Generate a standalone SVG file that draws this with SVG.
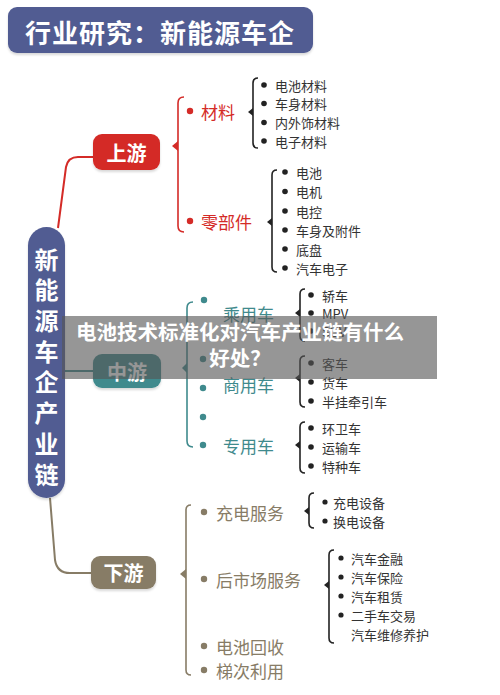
<svg xmlns="http://www.w3.org/2000/svg" width="500" height="695" viewBox="0 0 500 695">
<defs>
<style>
.f{font-family:"Noto Sans CJK SC","Noto Sans",sans-serif;}
.wt{fill:#fff;font-weight:bold;dominant-baseline:central;text-anchor:middle;}
.it{fill:#333;font-size:13px;dominant-baseline:central;}
.red{fill:#d42b27;} .teal{fill:#3f8a8d;} .brn{fill:#877c66;}
.lbl{font-size:17px;dominant-baseline:central;}
.brk{fill:none;stroke-width:1.6;}
.bk{stroke:#222;} .bkf{fill:#222;}
</style>
<filter id="sh" x="-10%" y="-10%" width="120%" height="130%"><feDropShadow dx="0" dy="2" stdDeviation="1.2" flood-color="#000" flood-opacity="0.15"/></filter>
</defs>
<rect width="500" height="695" fill="#fff"/>

<g id="title">
<rect x="8" y="7" width="305" height="46" rx="9" fill="#515c92" filter="url(#sh)"/>
<text class="f wt" x="160" y="31" font-size="26" letter-spacing="1">行业研究：新能源车企</text>
</g>

<g id="connectors">
<path d="M58,228 L66,167 Q68,157 78,157 L93,157" fill="none" stroke="#d42b27" stroke-width="2"/>
<path d="M65,371 L93,371" fill="none" stroke="#3f8a8d" stroke-width="2"/>
<path d="M50,498 L55,560 Q57,573 70,573 L91,573" fill="none" stroke="#877c66" stroke-width="2"/>
</g>

<g id="chain">
<rect x="28" y="227" width="37" height="271" rx="18.5" fill="#515c92" filter="url(#sh)"/>
<g class="f wt" font-size="24">
<text x="46.5" y="258">新</text>
<text x="46.5" y="288.7">能</text>
<text x="46.5" y="319.4">源</text>
<text x="46.5" y="350.1">车</text>
<text x="46.5" y="380.8">企</text>
<text x="46.5" y="411.5">产</text>
<text x="46.5" y="442.2">业</text>
<text x="46.5" y="473">链</text>
</g>
</g>

<g id="upstream">
<rect x="93" y="134" width="67" height="36" rx="9" fill="#d42b27" filter="url(#sh)"/>
<text class="f wt" x="126.5" y="152" font-size="20">上游</text>
<path class="brk" stroke="#d42b27" d="M184,97 Q178,97 178,103 L178,226 Q178,232 184,232"/>
<polygon points="178,141 172,146 178,151" fill="#d42b27"/>
<circle cx="190" cy="111" r="3.2" fill="#d42b27"/>
<circle cx="190" cy="221" r="3.2" fill="#d42b27"/>
<text class="f lbl red" x="201" y="111">材料</text>
<text class="f lbl red" x="201" y="221">零部件</text>
</g>

<g id="materials">
<path class="brk bk" d="M258,78 Q253,78 253,83 L253,143 Q253,148 258,148"/>
<polygon class="bkf" points="253,108 248,112 253,116"/>
<g class="bkf"><circle cx="264" cy="85" r="2.8"/><circle cx="264" cy="103.5" r="2.8"/><circle cx="264" cy="122.5" r="2.8"/><circle cx="264" cy="141" r="2.8"/></g>
<text class="f it" x="275" y="85">电池材料</text>
<text class="f it" x="275" y="103.5">车身材料</text>
<text class="f it" x="275" y="122.5">内外饰材料</text>
<text class="f it" x="275" y="141">电子材料</text>
</g>

<g id="parts">
<path class="brk bk" d="M277,170 Q272,170 272,175 L272,267 Q272,272 277,272"/>
<polygon class="bkf" points="272,218 267,222 272,226"/>
<g class="bkf"><circle cx="285" cy="172" r="2.8"/><circle cx="285" cy="191.5" r="2.8"/><circle cx="285" cy="211" r="2.8"/><circle cx="285" cy="230" r="2.8"/><circle cx="285" cy="249" r="2.8"/><circle cx="285" cy="268" r="2.8"/></g>
<text class="f it" x="296" y="172">电池</text>
<text class="f it" x="296" y="191.5">电机</text>
<text class="f it" x="296" y="211">电控</text>
<text class="f it" x="296" y="230">车身及附件</text>
<text class="f it" x="296" y="249">底盘</text>
<text class="f it" x="296" y="268">汽车电子</text>
</g>

<g id="midstream">
<rect x="93" y="354" width="68" height="34" rx="9" fill="#3f8a8d" filter="url(#sh)"/>
<text class="f wt" x="127" y="371" font-size="20">中游</text>
<path class="brk" stroke="#3f8a8d" d="M193,302 Q187,302 187,308 L187,441 Q187,447 193,447"/>
<polygon points="187,363 182,368 187,373" fill="#3f8a8d"/>
<g fill="#3f8a8d"><circle cx="204" cy="300" r="3.2"/><circle cx="203" cy="359" r="3.2"/><circle cx="203" cy="388" r="3.2"/><circle cx="203" cy="417" r="3.2"/><circle cx="203" cy="445" r="3.2"/></g>
<text class="f lbl teal" x="223" y="313">乘用车</text>
<text class="f lbl teal" x="223" y="384">商用车</text>
<text class="f lbl teal" x="223" y="445">专用车</text>
</g>

<g id="passenger">
<path class="brk bk" d="M305,289 Q300,289 300,294 L300,336 Q300,341 305,341"/>
<polygon class="bkf" points="300,309 295,313 300,317"/>
<g class="bkf"><circle cx="311" cy="295" r="2.8"/><circle cx="311" cy="313" r="2.8"/><circle cx="311" cy="331" r="2.8"/></g>
<text class="f it" x="322" y="295">轿车</text>
<text class="f it" x="322" y="313">MPV</text>
<text class="f it" x="322" y="331">SUV</text>
</g>

<g id="commercial">
<path class="brk bk" d="M305,356 Q300,356 300,361 L300,402 Q300,407 305,407"/>
<polygon class="bkf" points="300,374 295,378 300,382"/>
<g class="bkf"><circle cx="311" cy="363" r="2.8"/><circle cx="311" cy="382" r="2.8"/><circle cx="311" cy="401" r="2.8"/></g>
<text class="f it" x="322" y="363">客车</text>
<text class="f it" x="322" y="382">货车</text>
<text class="f it" x="322" y="401">半挂牵引车</text>
</g>

<g id="special">
<path class="brk bk" d="M305,422 Q300,422 300,427 L300,468 Q300,473 305,473"/>
<polygon class="bkf" points="300,441 295,445 300,449"/>
<g class="bkf"><circle cx="311" cy="428" r="2.8"/><circle cx="311" cy="447" r="2.8"/><circle cx="311" cy="466" r="2.8"/></g>
<text class="f it" x="322" y="428">环卫车</text>
<text class="f it" x="322" y="447">运输车</text>
<text class="f it" x="322" y="466">特种车</text>
</g>

<g id="downstream">
<rect x="91" y="556" width="65" height="33" rx="9" fill="#877c66" filter="url(#sh)"/>
<text class="f wt" x="123.5" y="572.5" font-size="20">下游</text>
<path class="brk" stroke="#877c66" d="M191,505 Q186,505 186,510 L186,670 Q186,675 191,675"/>
<polygon points="186,569 180,574 186,579" fill="#877c66"/>
<g fill="#877c66"><circle cx="204" cy="512" r="3.2"/><circle cx="204" cy="579" r="3.2"/><circle cx="204" cy="646" r="3.2"/><circle cx="204" cy="670" r="3.2"/></g>
<text class="f lbl brn" x="216" y="512" font-size="18">充电服务</text>
<text class="f lbl brn" x="216" y="579" font-size="18">后市场服务</text>
<text class="f lbl brn" x="216" y="646" font-size="18">电池回收</text>
<text class="f lbl brn" x="216" y="670" font-size="18">梯次利用</text>
</g>

<g id="charging">
<path class="brk bk" d="M314,493 Q309,493 309,498 L309,523 Q309,528 314,528"/>
<polygon class="bkf" points="309,507 304,511 309,515"/>
<g class="bkf"><circle cx="325" cy="502" r="2.6"/><circle cx="325" cy="521" r="2.6"/></g>
<text class="f it" x="333" y="502" font-size="12">充电设备</text>
<text class="f it" x="333" y="521" font-size="12">换电设备</text>
</g>

<g id="aftermarket">
<path class="brk bk" d="M334,550 Q329,550 329,555 L329,638 Q329,643 334,643"/>
<polygon class="bkf" points="329,581 324,585 329,589"/>
<g class="bkf"><circle cx="341" cy="558" r="2.6"/><circle cx="341" cy="577" r="2.6"/><circle cx="341" cy="596" r="2.6"/><circle cx="341" cy="615" r="2.6"/></g>
<text class="f it" x="351" y="558" font-size="12.5">汽车金融</text>
<text class="f it" x="351" y="577" font-size="12.5">汽车保险</text>
<text class="f it" x="351" y="596" font-size="12.5">汽车租赁</text>
<text class="f it" x="351" y="615" font-size="12.5">二手车交易</text>
<text class="f it" x="351" y="634" font-size="12.5">汽车维修养护</text>
</g>

<g id="overlay">
<rect x="62" y="316" width="375" height="63" fill="#555" fill-opacity="0.62"/>
<text class="f" x="240" y="340" font-size="20.5" font-weight="bold" fill="#fff" text-anchor="middle">电池技术标准化对汽车产业链有什么</text>
<text class="f" x="240" y="366" font-size="20.5" font-weight="bold" fill="#fff" text-anchor="middle">好处？</text>
</g>
</svg>
